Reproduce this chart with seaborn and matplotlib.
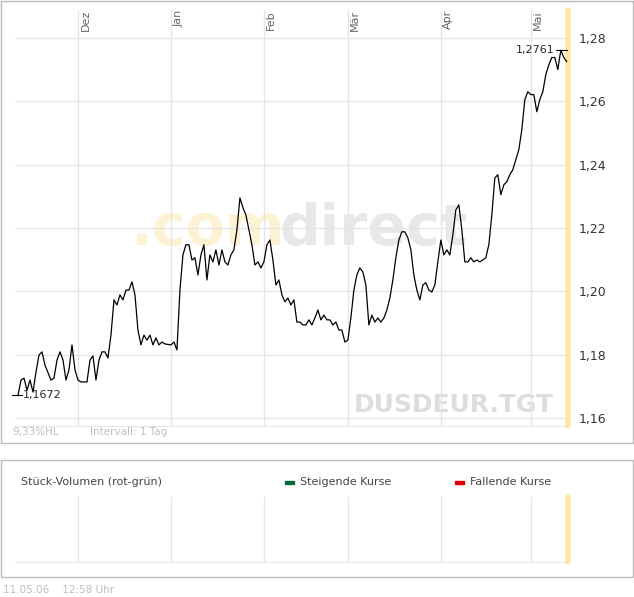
import matplotlib
matplotlib.use("Agg")
import matplotlib.pyplot as plt
import pandas as pd
import seaborn as sns
from matplotlib.patches import Rectangle

sns.set_style("white")
plt.rcParams['font.family'] = ['DejaVu Sans']

# days since 2005-11-10
days = [1, 2, 3, 4, 5, 6, 7, 8, 9, 10, 12, 13, 14, 15, 16, 17, 18, 19, 20, 21, 22, 24, 25, 26, 27, 28,
        29, 30, 31, 32, 33, 34, 35, 36, 37, 38, 39, 40, 41, 42, 43, 44, 45, 46, 47, 48, 49, 50, 52, 53,
        54, 55, 56, 57, 58, 59, 60, 61, 62, 63, 64, 65, 66, 67, 68, 69, 70, 71, 72, 73, 74, 75, 76, 77,
        78, 79, 80, 81, 82, 83, 84, 85, 86, 87, 88, 89, 90, 91, 92, 93, 94, 95, 96, 97, 98, 99, 100,
        101, 102, 103, 104, 105, 106, 107, 108, 109, 110, 111, 112, 113, 114, 115, 116, 117, 118, 119,
        120, 121, 122, 123, 124, 125, 126, 127, 128, 129, 130, 131, 132, 133, 134, 135, 136, 137, 138,
        139, 140, 141, 142, 143, 144, 145, 146, 147, 148, 149, 150, 151, 152, 153, 154, 155, 156, 157,
        158, 159, 160, 161, 162, 163, 164, 165, 166, 167, 168, 169, 170, 171, 172, 173, 174, 175, 176,
        177, 178, 179, 180, 181, 182, 183, 184]
price = [1.1672, 1.1720, 1.1726, 1.1688, 1.1720, 1.1682, 1.1745, 1.1799, 1.1809, 1.1767, 1.1720, 1.1726,
         1.1783, 1.1809, 1.1783, 1.1720, 1.1752, 1.1831, 1.1752, 1.1720, 1.1714, 1.1714, 1.1783, 1.1796,
         1.1720, 1.1783, 1.1809, 1.1809, 1.1790, 1.1862, 1.1973, 1.1957, 1.1989, 1.1973, 1.2004, 1.2004,
         1.2030, 1.1989, 1.1878, 1.1831, 1.1862, 1.1846, 1.1862, 1.1831, 1.1853, 1.1831, 1.1840, 1.1834,
         1.1831, 1.1840, 1.1815, 1.2004, 1.2115, 1.2147, 1.2147, 1.2099, 1.2106, 1.2052, 1.2115, 1.2147,
         1.2036, 1.2115, 1.2093, 1.2131, 1.2083, 1.2131, 1.2093, 1.2083, 1.2115, 1.2131, 1.2194, 1.2295,
         1.2264, 1.2241, 1.2194, 1.2147, 1.2083, 1.2093, 1.2074, 1.2093, 1.2147, 1.2162, 1.2099, 1.2020,
         1.2036, 1.1989, 1.1967, 1.1979, 1.1957, 1.1973, 1.1903, 1.1903, 1.1894, 1.1894, 1.1910, 1.1894,
         1.1916, 1.1941, 1.1910, 1.1925, 1.1910, 1.1910, 1.1894, 1.1903, 1.1878, 1.1878, 1.1840, 1.1846,
         1.1916, 1.2004, 1.2052, 1.2074, 1.2061, 1.2020, 1.1894, 1.1925, 1.1903, 1.1916, 1.1903, 1.1916,
         1.1941, 1.1979, 1.2036, 1.2106, 1.2162, 1.2188, 1.2188, 1.2169, 1.2131, 1.2052, 1.2004, 1.1973,
         1.2020, 1.2027, 1.2004, 1.1998, 1.2020, 1.2093, 1.2162, 1.2115, 1.2131, 1.2115, 1.2178, 1.2257,
         1.2273, 1.2194, 1.2093, 1.2093, 1.2106, 1.2093, 1.2099, 1.2093, 1.2099, 1.2106, 1.2147, 1.2241,
         1.2358, 1.2368, 1.2305, 1.2336, 1.2346, 1.2368, 1.2384, 1.2415, 1.2447, 1.2510, 1.2605, 1.2630,
         1.2621, 1.2621, 1.2567, 1.2605, 1.2630, 1.2684, 1.2715, 1.2738, 1.2738, 1.2700, 1.2761, 1.2738,
         1.2725]
month_days = [21, 52, 83, 111, 142, 172]
month_labels = ["Dez", "Jan", "Feb", "Mär", "Apr", "Mai"]
y_ticks = [1.16, 1.18, 1.20, 1.22, 1.24, 1.26, 1.28]

df = pd.DataFrame({"day": days, "price": price})
W, H = 634, 597
fig = plt.figure(figsize=(W / 100, H / 100), dpi=100)
grey = "#bbbbbb"
light = "#bfbfbf"

# panel frames
fig.patches.append(Rectangle((1 / W, 1 - 443 / H), 632 / W, 442 / H, transform=fig.transFigure,
                             fill=False, edgecolor=grey, lw=1))
fig.patches.append(Rectangle((1 / W, 1 - 577 / H), 632 / W, 117 / H, transform=fig.transFigure,
                             fill=False, edgecolor=grey, lw=1))

ax = fig.add_axes([15 / W, 1 - 426 / H, 553 / W, 416 / H])
sns.lineplot(data=df, x="day", y="price", ax=ax, color="black", lw=0.9, zorder=3)
ax.set_xlim(0, 184.4)
ax.set_ylim(1.1575, 1.2888)
ax.set_xticks(month_days)
ax.set_xticklabels([])
ax.set_yticks(y_ticks)
ax.set_yticklabels([f"{v:.2f}".replace(".", ",") for v in y_ticks])
ax.yaxis.tick_right()
ax.tick_params(axis="y", length=0, labelsize=9, colors="#333333", pad=8)
ax.tick_params(axis="x", length=0)
ax.grid(True, color="#e6e6e6", lw=1)
for s in ax.spines.values():
    s.set_visible(False)
ax.spines["bottom"].set_visible(True)
ax.spines["bottom"].set_color("#e6e6e6")
ax.set_xlabel("")
ax.set_ylabel("")
ax.axvline(184.4, color="#fbe6a2", lw=4, clip_on=False)

for d, lab in zip(month_days, month_labels):
    ax.text(d + 0.8, 1.0, lab, transform=ax.get_xaxis_transform(), rotation=90,
            va="top", ha="left", fontsize=8, color="#666666")

# min / max markers
ax.plot([-1, 2.5], [1.1672, 1.1672], color="black", lw=0.8, clip_on=False)
ax.text(2.5, 1.1672, "1,1672", fontsize=8, va="center", ha="left")
ax.plot([180.5, 184], [1.2761, 1.2761], color="black", lw=0.8)
ax.text(180, 1.2761, "1,2761", fontsize=8, va="center", ha="right")

# watermarks
ax.text(115 / 553, 0.435, ".com", transform=ax.transAxes, fontsize=41, color="#fdf2d3",
        ha="left", va="baseline", fontweight="bold", zorder=0)
ax.text(265 / 553, 0.435, "direct", transform=ax.transAxes, fontsize=41, color="#e7e8e8",
        ha="left", va="baseline", fontweight="bold", zorder=0)
ax.text(0.975, 0.05, "DUSDEUR.TGT", transform=ax.transAxes, fontsize=18, color="#dddddd",
        ha="right", va="center", fontweight="bold", zorder=0)

fig.text(12 / W, 1 - 432 / H, "9,33%HL", fontsize=7.5, color=light, va="center")
fig.text(90 / W, 1 - 432 / H, "Intervall: 1 Tag", fontsize=7.5, color=light, va="center")

# volume panel
ax2 = fig.add_axes([15 / W, 1 - 562 / H, 553 / W, 65 / H])
ax2.set_xlim(0, 184.4)
ax2.set_ylim(0, 1)
ax2.set_xticks(month_days)
ax2.set_yticks([])
ax2.set_xticklabels([])
ax2.tick_params(length=0)
ax2.grid(True, axis="x", color="#e6e6e6", lw=1)
for s in ax2.spines.values():
    s.set_visible(False)
ax2.spines["bottom"].set_visible(True)
ax2.spines["bottom"].set_color("#e6e6e6")
ax2.axvline(184.4, color="#fbe6a2", lw=4, clip_on=False)

fig.text(21 / W, 1 - 482 / H, "Stück-Volumen (rot-grün)", fontsize=8, color="#444444", va="center")
fig.patches.append(Rectangle((285 / W, 1 - 484 / H), 9 / W, 3 / H, transform=fig.transFigure, color="#0a6b3a"))
fig.text(300 / W, 1 - 482 / H, "Steigende Kurse", fontsize=8, color="#444444", va="center")
fig.patches.append(Rectangle((455 / W, 1 - 484 / H), 9 / W, 3 / H, transform=fig.transFigure, color="#e00000"))
fig.text(470 / W, 1 - 482 / H, "Fallende Kurse", fontsize=8, color="#444444", va="center")

fig.text(3 / W, 1 - 590 / H, "11.05.06    12:58 Uhr", fontsize=7.5, color=light, va="center")

plt.savefig("out.png", dpi=100)
